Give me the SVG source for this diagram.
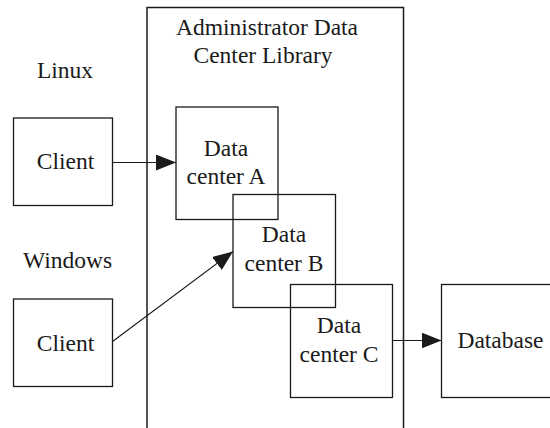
<svg xmlns="http://www.w3.org/2000/svg" width="550" height="428" viewBox="0 0 550 428">
  <style>
    .box { fill: none; stroke: #1a1a1a; stroke-width: 1.3; }
    .lbl { font-family: "Liberation Serif", "Times New Roman", serif; font-size: 23.5px; fill: #1a1a1a; text-anchor: middle; }
    .wire { stroke: #1a1a1a; stroke-width: 1.1; fill: none; }
  </style>
  <defs>
    <marker id="arrow" viewBox="0 0 20 16" refX="20" refY="8" markerWidth="20" markerHeight="16" markerUnits="userSpaceOnUse" orient="auto">
      <path d="M0,0 L20,8 L0,16 z" fill="#1a1a1a"/>
    </marker>
  </defs>
  <rect width="550" height="428" fill="#ffffff"/>

  <g id="library">
    <rect class="box" x="147" y="7.5" width="256.5" height="440" style="stroke-width:1.5"/>
    <text class="lbl" x="267" y="35">Administrator Data</text>
    <text class="lbl" x="263" y="63">Center Library</text>
  </g>

  <g id="linux-label">
    <text class="lbl" x="65" y="78">Linux</text>
  </g>
  <g id="windows-label">
    <text class="lbl" x="67.5" y="268">Windows</text>
  </g>

  <g id="linux-client">
    <rect class="box" x="13.5" y="118" width="99" height="87.5"/>
    <text class="lbl" x="65.5" y="169">Client</text>
  </g>

  <g id="windows-client">
    <rect class="box" x="13.5" y="299" width="99" height="87.5"/>
    <text class="lbl" x="65.5" y="350.5">Client</text>
  </g>

  <g id="datacenter-a">
    <rect class="box" x="176" y="107" width="102" height="112.5"/>
    <text class="lbl" x="226" y="155.5">Data</text>
    <text class="lbl" x="226" y="184">center A</text>
  </g>

  <g id="datacenter-b">
    <rect class="box" x="233" y="194.5" width="102.5" height="113"/>
    <text class="lbl" x="284" y="242">Data</text>
    <text class="lbl" x="284" y="271">center B</text>
  </g>

  <g id="datacenter-c">
    <rect class="box" x="290.5" y="284.5" width="102" height="113"/>
    <text class="lbl" x="339" y="333">Data</text>
    <text class="lbl" x="339" y="361.5">center C</text>
  </g>

  <g id="database">
    <rect class="box" x="441.5" y="284.5" width="120" height="113"/>
    <text class="lbl" x="500.5" y="348">Database</text>
  </g>

  <g id="connectors">
    <line class="wire" x1="112.5" y1="162.5" x2="176" y2="162.5" marker-end="url(#arrow)"/>
    <line class="wire" x1="112.5" y1="341.5" x2="233" y2="251.5" marker-end="url(#arrow)"/>
    <line class="wire" x1="392.5" y1="340.5" x2="441.5" y2="340.5" marker-end="url(#arrow)"/>
  </g>
</svg>
